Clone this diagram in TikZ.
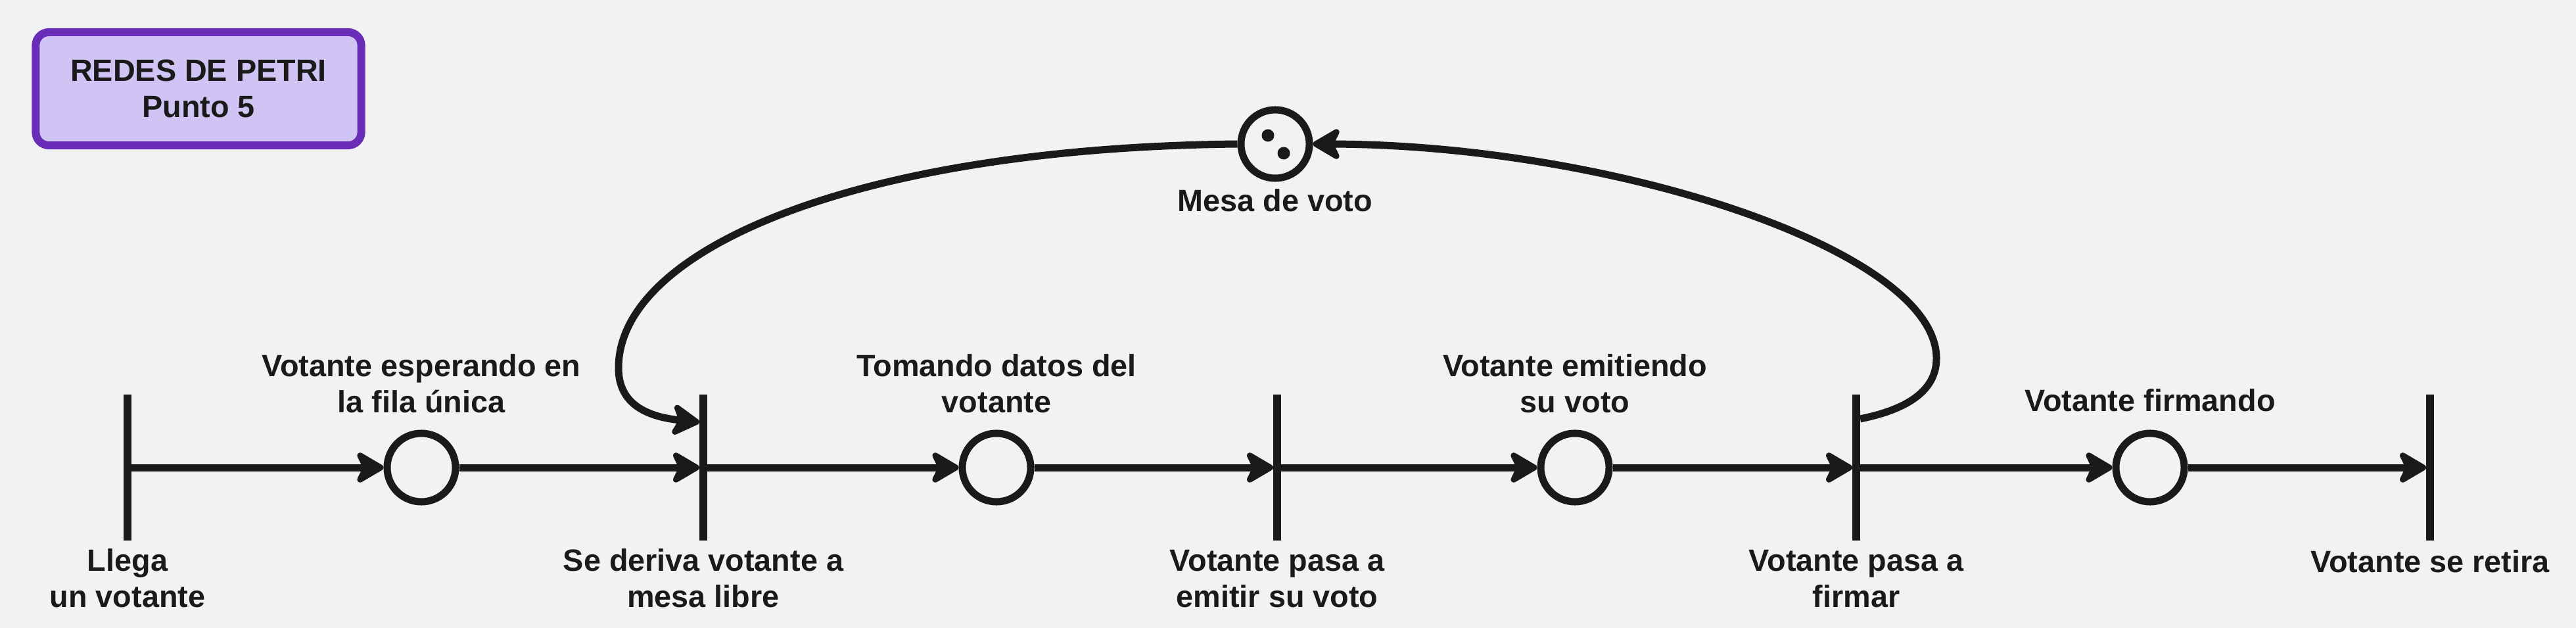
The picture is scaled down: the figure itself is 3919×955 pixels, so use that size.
\documentclass[tikz,border=0pt]{standalone}
\usepackage{fontspec}
\setmainfont{Liberation Sans}
\usetikzlibrary{arrows.meta,calc}
\definecolor{ink}{HTML}{1A1A1A}
\definecolor{bg}{HTML}{F2F2F2}
\definecolor{titlefill}{HTML}{D0C4F4}
\definecolor{titledraw}{HTML}{6A2DB8}
\begin{document}
\begin{tikzpicture}[x=0.01cm,y=-0.01cm,
  lbl/.style={font=\bfseries\fontsize{13.3}{15.36}\selectfont, text=ink, align=center, inner sep=0pt, anchor=base},
  titlebox/.style={rectangle, rounded corners=0.2cm, draw=titledraw, fill=titlefill, line width=0.12cm,
    minimum width=4.95cm, minimum height=1.72cm, inner sep=0pt,
    font=\bfseries\fontsize{13.3}{15.5}\selectfont, text=ink, align=center},
  place/.style={circle, draw=ink, line width=0.11cm, minimum size=1.04cm, inner sep=0pt, fill=bg},
  trans/.style={rectangle, fill=ink, minimum width=0.12cm, minimum height=2.22cm, inner sep=0pt, outer sep=0pt},
  flow/.style={draw=ink, line width=0.11cm, -{Stealth[length=0.5cm,width=0.58cm,inset=0.14cm,round]}},
]
\useasboundingbox[fill=bg] (0,0) rectangle (3919,955);

% title
\node[titlebox] (title) at (302,135) {REDES DE PETRI\\Punto 5};

% transitions
\node[trans] (t1) at (194,711) {};
\node[trans] (t2) at (1070,711) {};
\node[trans] (t3) at (1943,711) {};
\node[trans] (t4) at (2824,711) {};
\node[trans] (t5) at (3697,711) {};

% places
\node[place] (p1) at (641,711) {};
\node[place] (p2) at (1516,711) {};
\node[place] (p3) at (2396,711) {};
\node[place] (p4) at (3271,711) {};
\node[place] (mesa) at (1940,219) {};
\fill[ink] ($(mesa)+(-11,-13)$) circle[radius=0.095cm];
\fill[ink] ($(mesa)+(13,14)$) circle[radius=0.095cm];

% labels (base anchor = baseline of the last line)
\node[lbl] (lt1) at (194,923) {Llega\\un votante};
\node[lbl] (lp1) at (641,627) {Votante esperando en\\la fila única};
\node[lbl] (lt2) at (1070,923) {Se deriva votante a\\mesa libre};
\node[lbl] (lp2) at (1516,627) {Tomando datos del\\votante};
\node[lbl] (lt3) at (1943,923) {Votante pasa a\\emitir su voto};
\node[lbl] (lp3) at (2396,627) {Votante emitiendo\\su voto};
\node[lbl] (lt4) at (2824,923) {Votante pasa a\\firmar};
\node[lbl] (lp4) at (3271,625) {Votante firmando};
\node[lbl] (lt5) at (3697,870) {Votante se retira};
\node[lbl] (lm) at (1940,322) {Mesa de voto};

% arcs
\draw[flow] (t1.east) -- (p1.west);
\draw[flow] (p1.east) -- (t2.west);
\draw[flow] (t2.east) -- (p2.west);
\draw[flow] (p2.east) -- (t3.west);
\draw[flow] (t3.east) -- (p3.west);
\draw[flow] (p3.east) -- (t4.west);
\draw[flow] (t4.east) -- (p4.west);
\draw[flow] (p4.east) -- (t5.west);

\draw[flow] (mesa.west) .. controls (1300,225) and (940,380) .. (941,560)
  .. controls (941,615) and (985,634) .. ([yshift=0.69cm]t2.west);
\draw[flow] ([yshift=0.74cm]t4.east) .. controls (2890,625) and (2946,600) .. (2946,545)
  .. controls (2946,380) and (2450,220) .. (mesa.east);
\end{tikzpicture}
\end{document}
